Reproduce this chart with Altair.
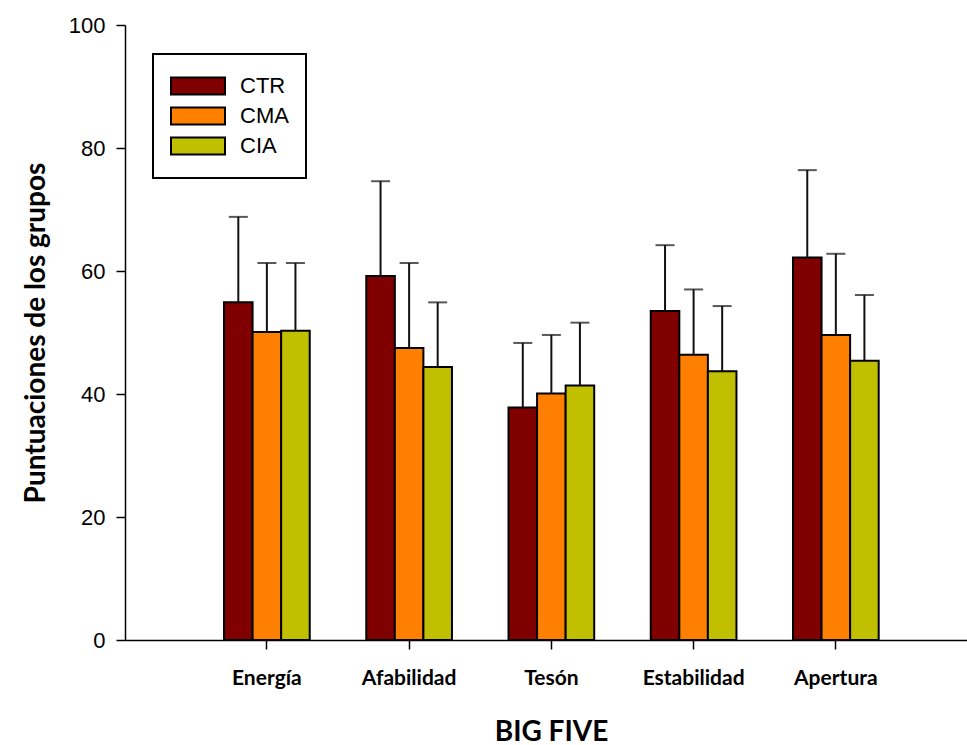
import altair as alt
import pandas as pd

categories = ["Energía", "Afabilidad", "Tesón", "Estabilidad", "Apertura"]
groups = ["CTR", "CMA", "CIA"]
colors = ["#800000", "#FF8000", "#C0C000"]

ctr_mean = [54.9, 59.2, 37.8, 53.5, 62.2]
ctr_sd = [13.9, 15.4, 10.5, 10.7, 14.2]
cma_mean = [50.1, 47.5, 40.1, 46.4, 49.6]
cma_sd = [11.2, 13.8, 9.5, 10.6, 13.2]
cia_mean = [50.3, 44.4, 41.4, 43.7, 45.4]
cia_sd = [11.0, 10.5, 10.2, 10.6, 10.7]

y_ticks = [0, 20, 40, 60, 80, 100]

rows = []
for g, means, sds in zip(groups, [ctr_mean, cma_mean, cia_mean], [ctr_sd, cma_sd, cia_sd]):
    for c, m, s in zip(categories, means, sds):
        rows.append({"cat": c, "grupo": g, "media": m, "sup": round(m + s, 2)})
df = pd.DataFrame(rows)

x_enc = alt.X(
    "cat:N",
    sort=categories,
    scale=alt.Scale(paddingInner=0.3975, paddingOuter=0.6585, align=0.5286),
    axis=alt.Axis(
        title="BIG FIVE",
        titleFont="Lato",
        titleFontWeight="bold",
        titleFontSize=28,
        titleColor="black",
        titleX=426,
        titleY=78,
        labelFont="Lato",
        labelFontWeight="bold",
        labelFontSize=21,
        labelColor="black",
        labelPadding=18,
        labelAngle=0,
        tickSize=9,
        tickColor="black",
        tickWidth=1.5,
        domainColor="black",
        domainWidth=1.5,
    ),
)
xoff = alt.XOffset("grupo:N", sort=groups, scale=alt.Scale(paddingInner=0, paddingOuter=0))

y_scale = alt.Scale(domain=[0, 100], nice=False)

bars = alt.Chart(df).mark_bar(stroke="black", strokeWidth=2).encode(
    x=x_enc,
    xOffset=xoff,
    y=alt.Y(
        "media:Q",
        scale=y_scale,
        axis=alt.Axis(
            title="Puntuaciones de los grupos",
            titleFont="Lato",
            titleFontWeight="bold",
            titleFontSize=28,
            titleColor="black",
            titlePadding=18,
            values=y_ticks,
            grid=False,
            labelFont="Liberation Sans",
            labelFontSize=22,
            labelColor="black",
            labelPadding=11,
            tickSize=9,
            tickColor="black",
            tickWidth=1.5,
            domainColor="black",
            domainWidth=1.5,
        ),
    ),
    color=alt.Color(
        "grupo:N",
        sort=groups,
        scale=alt.Scale(domain=groups, range=colors),
        legend=alt.Legend(
            title=None,
            orient="none",
            legendX=28,
            legendY=29,
            padding=17,
            clipHeight=30,
            rowPadding=0,
            labelOffset=14,
            labelFont="Liberation Sans",
            labelFontSize=22,
            labelColor="black",
            symbolType="M-1,-0.315L1,-0.315L1,0.315L-1,0.315Z",
            symbolSize=2916,
            symbolStrokeColor="black",
            symbolStrokeWidth=2,
            symbolOpacity=1,
            strokeColor="black",
            fillColor="white",
        ),
    ),
)

rules = alt.Chart(df).mark_rule(color="#111111", strokeWidth=2).encode(
    x=alt.X("cat:N", sort=categories),
    xOffset=xoff,
    y=alt.Y("media:Q", scale=y_scale),
    y2="sup:Q",
)

caps = alt.Chart(df).mark_tick(color="#111111", thickness=2, size=19).encode(
    x=alt.X("cat:N", sort=categories),
    xOffset=xoff,
    y=alt.Y("sup:Q", scale=y_scale),
)

chart = (
    alt.layer(bars, rules, caps)
    .properties(
        width=842,
        height=615,
        autosize=alt.AutoSizeParams(type="none"),
        padding={"left": 125, "top": 25, "right": 0, "bottom": 105},
        background="white",
    )
    .configure_view(strokeWidth=0)
    .configure_legend(strokeWidth=2)
)

chart.save("out.html", embed_options={"renderer": "svg", "actions": False})
